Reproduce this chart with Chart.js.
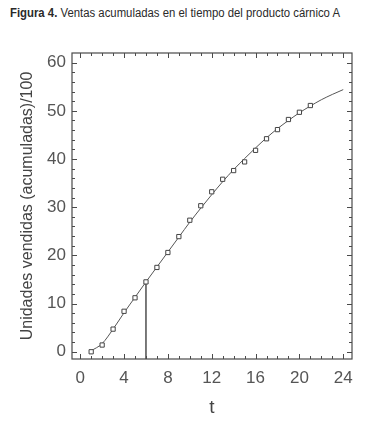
<!DOCTYPE html>
<html lang="es">
<head>
<meta charset="UTF-8">
<style>
    * { margin: 0; padding: 0; box-sizing: border-box; }
    body { background: #fff; width: 366px; height: 423px; overflow: hidden; position: relative; }
    .fig-title {
        position: absolute; left: 10px; top: 6px;
        font-family: "Liberation Sans Narrow", "Liberation Sans", Arial, sans-serif;
        font-size: 12.5px; color: #2a2a2a; white-space: nowrap;
        transform-origin: left top;
    }
    .fig-title b { font-weight: bold; }
    .wrap { position: absolute; left: 0; top: 0; width: 366px; height: 423px; }
</style>
</head>
<body>
<div class="fig-title" id="figTitle"><b>Figura 4.</b> Ventas acumuladas en el tiempo del producto cárnico A</div>
<div class="wrap"><canvas id="chart" width="366" height="423"></canvas></div>

<script src="https://cdn.jsdelivr.net/npm/chart.js@4/dist/chart.umd.min.js"></script>
<script>
// observed sales (t = 1..21)
const tObs = [1, 2, 3, 4, 5, 6, 7, 8, 9, 10, 11, 12, 13, 14, 15, 16, 17, 18, 19, 20, 21];
const salesObs = [0.0, 1.4, 4.7, 8.4, 11.2, 14.5, 17.5, 20.6, 23.9, 27.3, 30.3, 33.2, 35.8, 37.6, 39.4, 41.8, 44.2, 46.1, 48.2, 49.7, 51.1];

// fitted curve (t = 1..24)
const tFit = [1, 2, 3, 4, 5, 6, 7, 8, 9, 10, 11, 12, 13, 14, 15, 16, 17, 18, 19, 20, 21, 22, 23, 24];
const salesFit = [0.2, 1.7, 4.7, 8.1, 11.3, 14.5, 17.6, 20.7, 23.8, 26.9, 29.8, 32.6, 35.3, 37.8, 40.1, 42.3, 44.4, 46.3, 48.0, 49.6, 51.0, 52.3, 53.4, 54.4];

// marker line at t = 6
const markT = 6;
const markY = 14.5;

const xTicks = [0, 4, 8, 12, 16, 20, 24];
const yTicks = [0, 10, 20, 30, 40, 50, 60];
const xMin = -0.75, xMax = 24.8;
const yMin = -1.5, yMax = 62;

// squeeze the caption to the narrow width of the original
const ft = document.getElementById('figTitle');
const w = ft.getBoundingClientRect().width;
if (w > 330) ft.style.transform = 'scaleX(' + (330 / w) + ')';

const boxPlugin = {
    id: 'boxPlugin',
    afterDraw(chart) {
        const { ctx, chartArea: a, scales: { x, y } } = chart;
        ctx.save();
        ctx.strokeStyle = '#4a4a4a';
        ctx.lineWidth = 1.2;
        ctx.strokeRect(a.left, a.top, a.right - a.left, a.bottom - a.top);
        ctx.lineWidth = 1;
        ctx.beginPath();
        // x ticks (minor every 1, major every 4)
        for (let v = 0; v <= 24; v++) {
            const px = Math.round(x.getPixelForValue(v)) + 0.5;
            const len = xTicks.includes(v) ? 5 : 3;
            ctx.moveTo(px, a.bottom); ctx.lineTo(px, a.bottom - len);
            ctx.moveTo(px, a.top); ctx.lineTo(px, a.top + len);
        }
        // y ticks (minor every 2, major every 10)
        for (let v = 0; v <= 60; v += 2) {
            const py = Math.round(y.getPixelForValue(v)) + 0.5;
            const len = yTicks.includes(v) ? 5 : 3;
            ctx.moveTo(a.left, py); ctx.lineTo(a.left + len, py);
            ctx.moveTo(a.right, py); ctx.lineTo(a.right - len, py);
        }
        ctx.stroke();
        ctx.restore();
    }
};

const labelFont = { family: '"Liberation Sans", Arial, sans-serif', size: 17 };

new Chart(document.getElementById('chart'), {
    type: 'scatter',
    data: {
        datasets: [{
            label: 'observado',
            data: tObs.map((t, i) => ({ x: t, y: salesObs[i] })),
            pointStyle: 'rect',
            pointRadius: 3,
            borderColor: '#444',
            backgroundColor: '#fff',
            borderWidth: 1,
            order: 0
        }, {
            label: 'ajuste',
            data: tFit.map((t, i) => ({ x: t, y: salesFit[i] })),
            showLine: true,
            cubicInterpolationMode: 'monotone',
            pointRadius: 0,
            borderColor: '#555',
            borderWidth: 1,
            order: 1
        }, {
            label: 't6',
            data: [{ x: markT, y: yMin }, { x: markT, y: markY }],
            showLine: true,
            pointRadius: 0,
            borderColor: '#333',
            borderWidth: 1.3,
            order: 2
        }]
    },
    options: {
        responsive: false,
        animation: false,
        layout: { padding: { top: 53, right: 14, left: 0, bottom: 0 } },
        plugins: { legend: { display: false }, tooltip: { enabled: false } },
        scales: {
            x: {
                type: 'linear', min: xMin, max: xMax,
                afterBuildTicks: s => { s.ticks = xTicks.map(v => ({ value: v })); },
                afterFit: s => { s.height = 64; },
                grid: { display: false, drawTicks: false },
                border: { display: false },
                ticks: { color: '#555', font: labelFont, padding: 9, maxRotation: 0 },
                title: { display: true, text: 't', color: '#444', font: { family: labelFont.family, size: 19 }, padding: { top: 0, bottom: 4 } }
            },
            y: {
                type: 'linear', min: yMin, max: yMax,
                afterBuildTicks: s => { s.ticks = yTicks.map(v => ({ value: v })); },
                afterFit: s => { s.width = 72; },
                grid: { display: false, drawTicks: false },
                border: { display: false },
                ticks: { color: '#555', font: labelFont, padding: 6 },
                title: { display: true, text: 'Unidades vendidas (acumuladas)/100', color: '#444', font: { family: labelFont.family, size: 16 }, padding: { top: 18, bottom: 0 } }
            }
        }
    },
    plugins: [boxPlugin]
});
</script>
</body>
</html>
